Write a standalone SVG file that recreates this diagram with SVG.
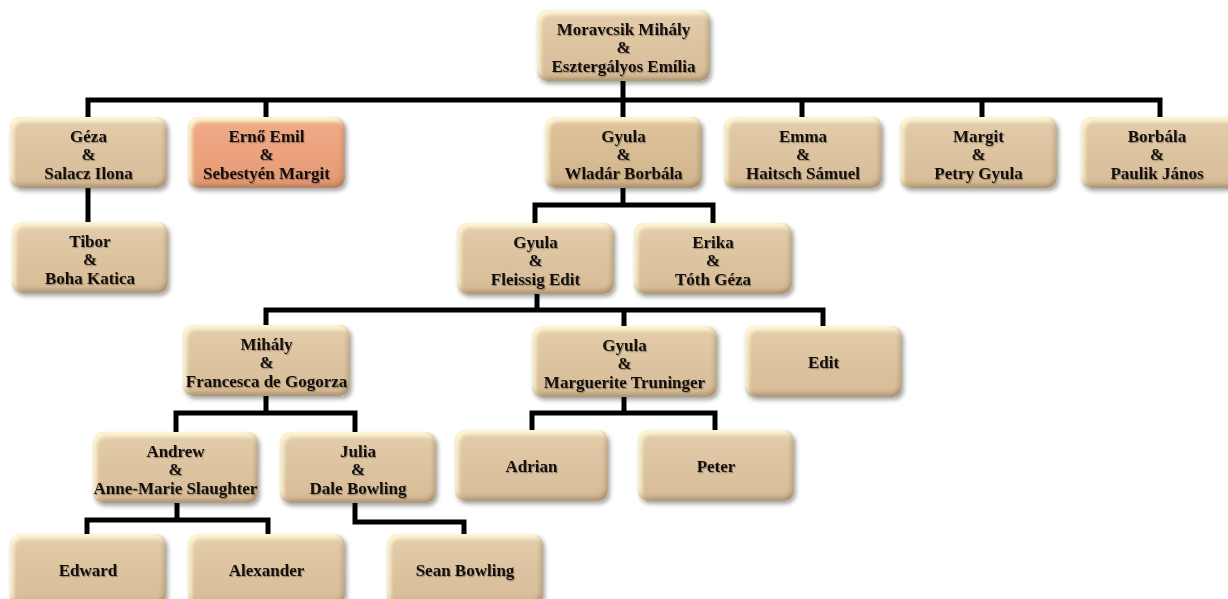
<svg xmlns="http://www.w3.org/2000/svg" width="1228" height="599" viewBox="0 0 1228 599">
<defs>
<filter id="bev" x="-10%" y="-15%" width="125%" height="140%">
<feGaussianBlur in="SourceAlpha" stdDeviation="2.5" result="b"/>
<feOffset in="b" dx="2" dy="3" result="o1"/>
<feComposite in="SourceAlpha" in2="o1" operator="out" result="hl"/>
<feFlood flood-color="#fff8d6" flood-opacity="1"/>
<feComposite in2="hl" operator="in" result="hlc"/>
<feOffset in="b" dx="-2" dy="-3" result="o2"/>
<feComposite in="SourceAlpha" in2="o2" operator="out" result="sh"/>
<feFlood flood-color="#6e5230" flood-opacity="0.6"/>
<feComposite in2="sh" operator="in" result="shc"/>
<feGaussianBlur in="SourceAlpha" stdDeviation="2" result="db"/>
<feOffset in="db" dx="2" dy="3" result="ds"/>
<feFlood flood-color="#000" flood-opacity="0.35"/>
<feComposite in2="ds" operator="in" result="dsc"/>
<feMerge><feMergeNode in="dsc"/><feMergeNode in="SourceGraphic"/><feMergeNode in="hlc"/><feMergeNode in="hlc"/><feMergeNode in="shc"/></feMerge>
</filter>
<filter id="ts" x="-5%" y="-20%" width="110%" height="150%">
<feDropShadow dx="1" dy="1.2" stdDeviation="0.7" flood-color="#000" flood-opacity="0.3"/>
</filter>
<linearGradient id="beige" x1="0" y1="0" x2="0" y2="1">
<stop offset="0" stop-color="#e4cdab"/>
<stop offset="0.5" stop-color="#ddc4a1"/>
<stop offset="1" stop-color="#d6bb95"/>
</linearGradient>
<linearGradient id="salmon" x1="0" y1="0" x2="0" y2="1">
<stop offset="0" stop-color="#f0ab87"/>
<stop offset="0.5" stop-color="#eca37e"/>
<stop offset="1" stop-color="#e49874"/>
</linearGradient>
<linearGradient id="tan" x1="0" y1="0" x2="0" y2="1">
<stop offset="0" stop-color="#dfc49d"/>
<stop offset="0.5" stop-color="#d8bc94"/>
<stop offset="1" stop-color="#d0b38a"/>
</linearGradient>
</defs>
<style>
.box{fill:url(#beige);filter:url(#bev)}
.box.sal{fill:url(#salmon)}
.box.tan{fill:url(#tan)}
text{font-family:"Liberation Serif","Times New Roman",serif;font-weight:bold;font-size:17px;fill:#15110b;text-anchor:middle;filter:url(#ts)}
.con path{fill:none;stroke:#000;stroke-width:5;stroke-linejoin:miter;stroke-linecap:butt}
</style>
<g class="con" id="connectors">
<path d="M623,80 V100"/>
<path d="M88,117 V100 H1160 V117"/>
<path d="M266,100 V117"/>
<path d="M623,100 V117"/>
<path d="M802,100 V117"/>
<path d="M982,100 V117"/>
<path d="M88,188 V222"/>
<path d="M623,188 V205"/>
<path d="M535,223 V205 H713 V223"/>
<path d="M537,294 V310"/>
<path d="M266,325 V310 H823 V326"/>
<path d="M624,310 V326"/>
<path d="M266,396 V413"/>
<path d="M176,432 V413 H355 V432"/>
<path d="M624,397 V413"/>
<path d="M532,430 V413 H715 V430"/>
<path d="M177,503 V520"/>
<path d="M87,534 V520 H268 V534"/>
<path d="M355,503 V522 H464 V534"/>
</g>
<g id="root"><rect class="box" x="537" y="10" width="173" height="71" rx="10"/><text x="623.5" y="35">Moravcsik Mihály</text><text x="623.5" y="53">&amp;</text><text x="623.5" y="72">Esztergályos Emília</text></g>
<g id="geza"><rect class="box" x="10" y="117" width="157" height="71" rx="10"/><text x="88.5" y="142">Géza</text><text x="88.5" y="160">&amp;</text><text x="88.5" y="179">Salacz Ilona</text></g>
<g id="erno"><rect class="box sal" x="188" y="117" width="157" height="71" rx="10"/><text x="266.5" y="142">Ernő Emil</text><text x="266.5" y="160">&amp;</text><text x="266.5" y="179">Sebestyén Margit</text></g>
<g id="gyula-wladar"><rect class="box tan" x="545" y="117" width="157" height="71" rx="10"/><text x="623.5" y="142">Gyula</text><text x="623.5" y="160">&amp;</text><text x="623.5" y="179">Wladár Borbála</text></g>
<g id="emma"><rect class="box" x="724" y="117" width="158" height="71" rx="10"/><text x="803" y="142">Emma</text><text x="803" y="160">&amp;</text><text x="803" y="179">Haitsch Sámuel</text></g>
<g id="margit"><rect class="box" x="900" y="117" width="157" height="71" rx="10"/><text x="978.5" y="142">Margit</text><text x="978.5" y="160">&amp;</text><text x="978.5" y="179">Petry Gyula</text></g>
<g id="borbala"><rect class="box" x="1081" y="117" width="157" height="71" rx="10"/><text x="1157" y="142">Borbála</text><text x="1157" y="160">&amp;</text><text x="1157" y="179">Paulik János</text></g>
<g id="tibor"><rect class="box" x="12" y="222" width="156" height="71" rx="10"/><text x="90" y="247">Tibor</text><text x="90" y="265">&amp;</text><text x="90" y="284">Boha Katica</text></g>
<g id="gyula-fleissig"><rect class="box" x="457" y="223" width="157" height="71" rx="10"/><text x="535.5" y="248">Gyula</text><text x="535.5" y="266">&amp;</text><text x="535.5" y="285">Fleissig Edit</text></g>
<g id="erika"><rect class="box" x="634" y="223" width="158" height="71" rx="10"/><text x="713" y="248">Erika</text><text x="713" y="266">&amp;</text><text x="713" y="285">Tóth Géza</text></g>
<g id="mihaly"><rect class="box" x="183" y="325" width="167" height="71" rx="10"/><text x="266.5" y="350">Mihály</text><text x="266.5" y="368">&amp;</text><text x="266.5" y="387">Francesca de Gogorza</text></g>
<g id="gyula-truninger"><rect class="box" x="532" y="326" width="185" height="71" rx="10"/><text x="624.5" y="351">Gyula</text><text x="624.5" y="369">&amp;</text><text x="624.5" y="388">Marguerite Truninger</text></g>
<g id="edit"><rect class="box" x="745" y="326" width="157" height="71" rx="10"/><text x="823.5" y="368">Edit</text></g>
<g id="andrew"><rect class="box" x="93" y="432" width="165" height="71" rx="10"/><text x="175.5" y="457">Andrew</text><text x="175.5" y="475">&amp;</text><text x="175.5" y="494">Anne-Marie Slaughter</text></g>
<g id="julia"><rect class="box" x="280" y="432" width="156" height="71" rx="10"/><text x="358" y="457">Julia</text><text x="358" y="475">&amp;</text><text x="358" y="494">Dale Bowling</text></g>
<g id="adrian"><rect class="box" x="455" y="430" width="153" height="71" rx="10"/><text x="531.5" y="472">Adrian</text></g>
<g id="peter"><rect class="box" x="638" y="430" width="156" height="71" rx="10"/><text x="716" y="472">Peter</text></g>
<g id="edward"><rect class="box" x="10" y="534" width="156" height="71" rx="10"/><text x="88" y="576">Edward</text></g>
<g id="alexander"><rect class="box" x="188" y="534" width="157" height="71" rx="10"/><text x="266.5" y="576">Alexander</text></g>
<g id="sean"><rect class="box" x="387" y="534" width="156" height="71" rx="10"/><text x="465" y="576">Sean Bowling</text></g>
</svg>
